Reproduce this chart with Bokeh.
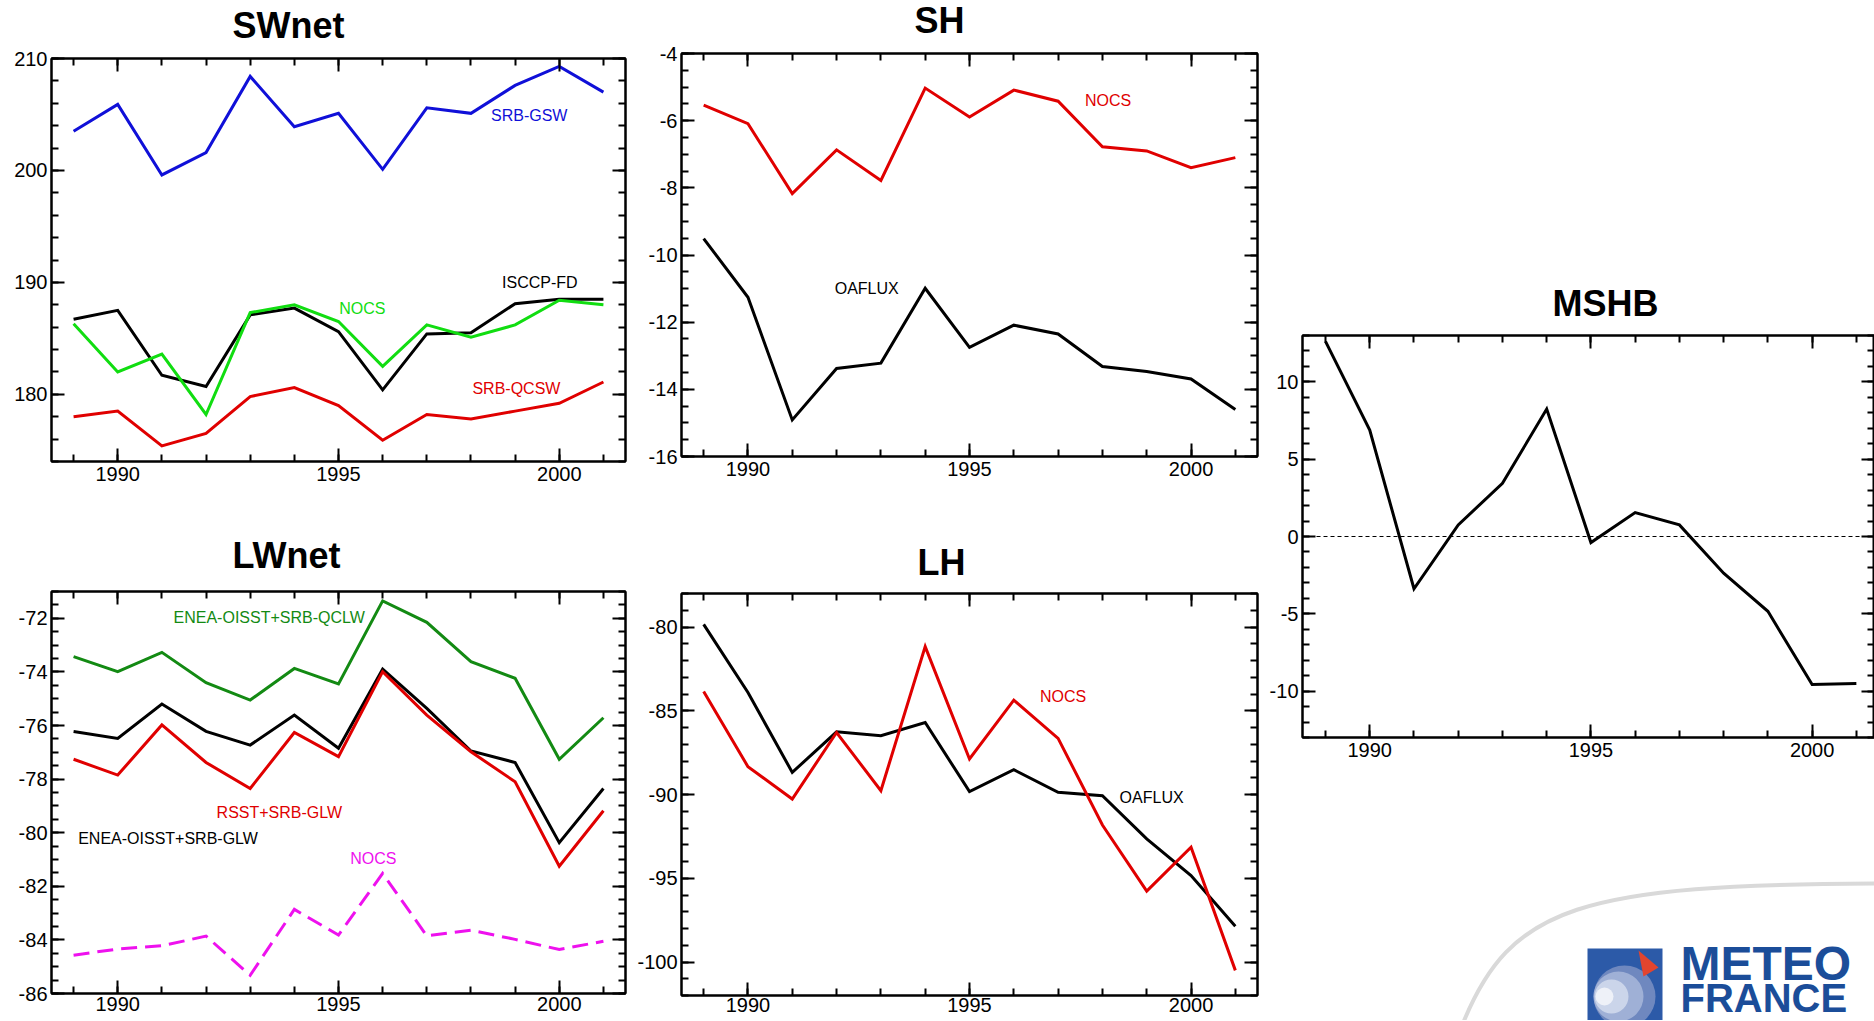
from bokeh.plotting import figure
from bokeh.models import (Range1d, FixedTicker, LinearAxis, Span, CustomJSTickFormatter,
                          PrintfTickFormatter)
from bokeh.layouts import row, column
from bokeh.embed import file_html
from bokeh.resources import INLINE
from bokeh.core.properties import value

# ---------------- data ----------------
years = list(range(1989, 2002))

sw_srb_gsw = [203.5, 205.9, 199.6, 201.6, 208.4, 203.9, 205.1, 200.1, 205.6, 205.1, 207.6, 209.3, 207.0]
sw_isccp_fd = [186.7, 187.5, 181.7, 180.7, 187.1, 187.7, 185.6, 180.4, 185.4, 185.5, 188.1, 188.5, 188.5]
sw_nocs = [186.3, 182.0, 183.6, 178.2, 187.3, 188.0, 186.5, 182.5, 186.2, 185.1, 186.2, 188.4, 188.0]
sw_srb_qcsw = [178.0, 178.5, 175.4, 176.5, 179.8, 180.6, 179.0, 175.9, 178.2, 177.8, 178.5, 179.2, 181.1]

sh_nocs = [-5.54, -6.09, -8.17, -6.87, -7.78, -5.03, -5.89, -5.09, -5.42, -6.78, -6.90, -7.40, -7.10]
sh_oaflux = [-9.51, -11.26, -14.91, -13.38, -13.22, -10.99, -12.75, -12.09, -12.35, -13.32, -13.47, -13.69, -14.60]

lw_enea_qclw = [-73.43, -73.99, -73.27, -74.40, -75.05, -73.87, -74.45, -71.35, -72.15, -73.62, -74.24, -77.26, -75.71]
lw_enea_glw = [-76.22, -76.48, -75.20, -76.22, -76.73, -75.61, -76.85, -73.90, -75.36, -76.95, -77.38, -80.37, -78.35]
lw_rsst_glw = [-77.26, -77.85, -75.98, -77.38, -78.35, -76.26, -77.16, -73.99, -75.61, -76.98, -78.10, -81.25, -79.18]
lw_nocs = [-84.57, -84.34, -84.22, -83.86, -85.32, -82.86, -83.82, -81.52, -83.85, -83.64, -83.98, -84.36, -84.05]

lh_oaflux = [-79.84, -83.91, -88.68, -86.26, -86.49, -85.70, -89.83, -88.52, -89.87, -90.07, -92.65, -94.84, -97.86]
lh_nocs = [-83.85, -88.34, -90.27, -86.30, -89.77, -81.17, -87.88, -84.37, -86.65, -91.82, -95.77, -93.15, -100.5]

mshb = [12.62, 6.88, -3.38, 0.75, 3.44, 8.24, -0.39, 1.55, 0.75, -2.37, -4.84, -9.57, -9.51]

x_major = [1990, 1995, 2000]
x_minor = list(range(1989, 2002))

FONT = "Liberation Sans"


def frange(a, b, step):
    n = int(round((b - a) / step))
    return [round(a + i * step, 6) for i in range(n + 1)]


def style_axis(ax, ticker, labels, standoff=3):
    ax.ticker = ticker
    ax.axis_line_color = "black"
    ax.axis_line_width = 2
    ax.major_tick_in = 13
    ax.major_tick_out = 0
    ax.minor_tick_in = 7
    ax.minor_tick_out = 0
    ax.major_tick_line_width = 2
    ax.minor_tick_line_width = 2
    ax.major_tick_line_color = "black"
    ax.minor_tick_line_color = "black"
    if labels:
        ax.formatter = PrintfTickFormatter(format="%d")
        ax.major_label_text_font = FONT
        ax.major_label_text_font_size = "20px"
        ax.major_label_text_color = "black"
        ax.major_label_standoff = standoff
    else:
        ax.major_label_text_font_size = "0px"
        ax.major_label_standoff = 0
        ax.formatter = CustomJSTickFormatter(code="return ''")


def bare(ml, fw, mr, h, x0, y0):
    """Axis-less strip whose frame maps page pixels 1:1 (for titles / logo)."""
    p = figure(width=ml + fw + mr, height=h, frame_width=fw, frame_height=h,
               x_range=Range1d(x0, x0 + fw), y_range=Range1d(y0 + h, y0),
               x_axis_type=None, y_axis_type=None, title=None,
               min_border_left=ml, min_border_right=mr, min_border_top=0, min_border_bottom=0,
               output_backend="svg", toolbar_location=None, tools="")
    p.outline_line_color = None
    p.xgrid.visible = False
    p.ygrid.visible = False
    return p


def panel(yr, ymaj, ymin, ml, fw, mr, mt, fh, mb, xr=(1988.5, 2001.5), xstand=4):
    p = figure(width=ml + fw + mr, height=mt + fh + mb, frame_width=fw, frame_height=fh,
               x_range=Range1d(*xr), y_range=Range1d(*yr), title=None,
               min_border_left=ml, min_border_right=mr, min_border_top=mt, min_border_bottom=mb,
               output_backend="svg", toolbar_location=None, tools="")
    p.xgrid.visible = False
    p.ygrid.visible = False
    p.outline_line_color = "black"
    p.outline_line_width = 2
    p.outline_line_alpha = 1
    p.background_fill_color = "white"
    p.border_fill_color = "white"
    style_axis(p.xaxis[0], FixedTicker(ticks=x_major, minor_ticks=x_minor), True, xstand)
    style_axis(p.yaxis[0], FixedTicker(ticks=ymaj, minor_ticks=ymin), True, 4)
    top = LinearAxis()
    style_axis(top, FixedTicker(ticks=x_major, minor_ticks=x_minor), False)
    p.add_layout(top, "above")
    right = LinearAxis()
    style_axis(right, FixedTicker(ticks=ymaj, minor_ticks=ymin), False)
    p.add_layout(right, "right")
    return p


def series(p, vals, color, dash="solid"):
    p.line(years, vals, line_color=color, line_width=3, line_join="miter", line_dash=dash)


def label(p, x, y, txt, color):
    p.text(x=[x], y=[y], text=[txt], text_color=color, text_font=value(FONT),
           text_font_size="16px", text_align="center", text_baseline="middle")


BLUE = "#1010d8"
GREEN = "#11dd11"
RED = "#e00000"
DKGREEN = "#138a13"
MAGENTA = "#ee11ee"

# column geometry (page pixels): left border, frame width, right border, column start
COL_A = (51, 574, 7, 0)
COL_B = (49, 576, 5, 632)
COL_C = (40, 572, 0, 1262)


def make_title(text, col, h, y0, cx, cy):
    ml, fw, mr, cs = col
    t = bare(ml, fw, mr, h, cs + ml, y0)
    t.text(x=[cx], y=[cy], text=[text], text_font=value(FONT), text_font_size="36px",
           text_font_style="bold", text_color="black", text_align="center",
           text_baseline="middle")
    return t


# ---- SWnet ----
t_sw = make_title("SWnet", COL_A, 46, 0, 288, 25)
p_sw = panel((174, 210), [180, 190, 200, 210], frange(174, 210, 2),
             COL_A[0], COL_A[1], COL_A[2], 12, 403, 49, xstand=5)
series(p_sw, sw_srb_gsw, BLUE)
series(p_sw, sw_isccp_fd, "black")
series(p_sw, sw_nocs, GREEN)
series(p_sw, sw_srb_qcsw, RED)
label(p_sw, 1999.32, 204.9, "SRB-GSW", BLUE)
label(p_sw, 1999.56, 190.0, "ISCCP-FD", "black")
label(p_sw, 1995.54, 187.7, "NOCS", GREEN)
label(p_sw, 1999.03, 180.56, "SRB-QCSW", RED)

# ---- LWnet ----
t_lw = make_title("LWnet", COL_A, 70, 510, 286, 555)
p_lw = panel((-86, -71), frange(-86, -72, 2), frange(-86, -71, 0.5),
             COL_A[0], COL_A[1], COL_A[2], 11, 402, 27, xstand=3)
series(p_lw, lw_enea_qclw, DKGREEN)
series(p_lw, lw_enea_glw, "black")
series(p_lw, lw_rsst_glw, RED)
series(p_lw, lw_nocs, MAGENTA, "16 8")
label(p_lw, 1993.43, -71.96, "ENEA-OISST+SRB-QCLW", DKGREEN)
label(p_lw, 1993.66, -79.25, "RSST+SRB-GLW", RED)
label(p_lw, 1991.14, -80.2, "ENEA-OISST+SRB-GLW", "black")
label(p_lw, 1995.79, -80.96, "NOCS", MAGENTA)

# ---- SH ----
t_sh = make_title("SH", COL_B, 41, 0, 939, 20.4)
p_sh = panel((-16, -4), frange(-16, -4, 2), frange(-16, -4, 0.5),
             COL_B[0], COL_B[1], COL_B[2], 12, 403, 54, xstand=5)
series(p_sh, sh_nocs, RED)
series(p_sh, sh_oaflux, "black")
label(p_sh, 1998.13, -5.4, "NOCS", RED)
label(p_sh, 1992.68, -10.99, "OAFLUX", "black")

# ---- LH ----
t_lh = make_title("LH", COL_B, 74, 510, 941, 561.7)
p_lh = panel((-102, -78), frange(-100, -80, 5), frange(-102, -78, 1),
             COL_B[0], COL_B[1], COL_B[2], 9, 402, 25, xstand=2)
series(p_lh, lh_oaflux, "black")
series(p_lh, lh_nocs, RED)
label(p_lh, 1997.11, -84.17, "NOCS", RED)
label(p_lh, 1999.11, -90.17, "OAFLUX", "black")

# ---- MSHB ----
t_ms = make_title("MSHB", COL_C, 326, 0, 1605, 303)
p_ms = panel((-13, 13), frange(-10, 10, 5), frange(-13, 13, 1),
             COL_C[0], COL_C[1], COL_C[2], 9, 402, 28, xr=(1988.48, 2001.41), xstand=5)
p_ms.add_layout(Span(location=0, dimension="width", line_color="black",
                     line_width=1.2, line_dash="4 3"))
series(p_ms, mshb, "black")

# ---- logo (decoration), drawn in page pixel coordinates ----
logo = bare(COL_C[0], COL_C[1], COL_C[2], 255, COL_C[3] + COL_C[0], 765)
logo.bezier(x0=[1462], y0=[1024], x1=[1880], y1=[883], cx0=[1510], cy0=[905],
            cx1=[1580], cy1=[884], line_color="#d9d9d9", line_width=4)
logo.quad(left=[1587], right=[1662], top=[948], bottom=[1030], fill_color="#2c5aa8",
          line_color=None)
logo.circle(x=[1624], y=[996], radius=31, fill_color="#6f88bf", line_color=None)
logo.circle(x=[1618], y=[996], radius=25, fill_color="#9fb0d6", line_color=None)
logo.circle(x=[1611], y=[996], radius=17, fill_color="#cbd5ea", line_color=None)
logo.circle(x=[1604], y=[996], radius=9, fill_color="#eef1f8", line_color=None)
logo.patch(x=[1638, 1658, 1643], y=[950, 967, 976], fill_color="#e2452f", line_color=None)
logo.text(x=[1680], y=[963], text=["METEO"], text_font=value(FONT), text_font_style="bold",
          text_font_size="48px", text_color="#1b4d99", text_baseline="middle")
logo.text(x=[1680], y=[997], text=["FRANCE"], text_font=value(FONT), text_font_style="bold",
          text_font_size="40px", text_color="#1b4d99", text_baseline="middle")

layout = row(column(t_sw, p_sw, t_lw, p_lw),
             column(t_sh, p_sh, t_lh, p_lh),
             column(t_ms, p_ms, logo))

open("out.html", "w").write(file_html(layout, INLINE))
